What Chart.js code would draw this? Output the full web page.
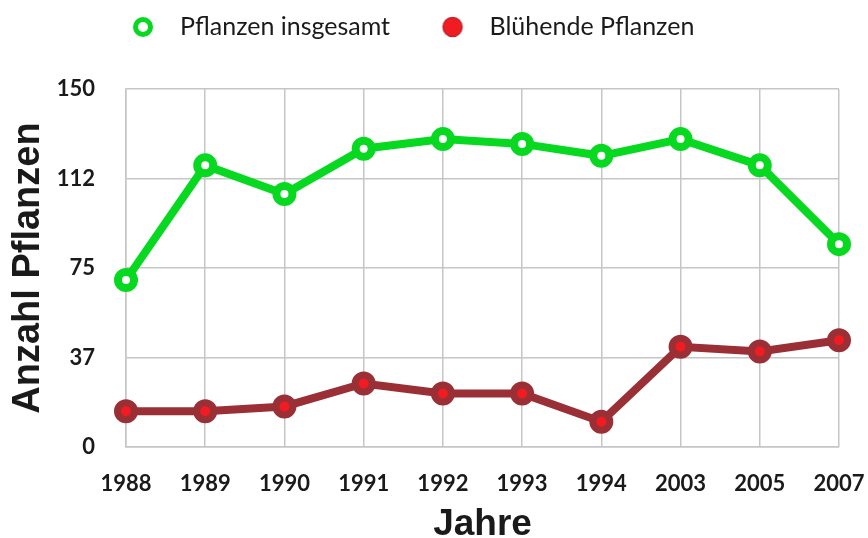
<!DOCTYPE html>
<html>
<head>
<meta charset="utf-8">
<script src="https://cdn.jsdelivr.net/npm/chart.js@4"></script>
<style>
html,body{margin:0;padding:0;background:#fff;}
#wrap{width:868px;height:538px;position:relative;}
</style>
</head>
<body>
<div id="wrap"><canvas id="c" width="868" height="538"></canvas></div>
<script>
const years = ['1988','1989','1990','1991','1992','1993','1994','2003','2005','2007'];
const totalPlants = [70, 118, 106, 125, 129, 127, 122, 129, 118, 85];
const floweringPlants = [15, 15, 17, 26.6, 22.4, 22.4, 10.6, 42, 40, 44.7];
const seriesNames = ['Pflanzen insgesamt', 'Blühende Pflanzen'];
const yTickValues = [0, 37.5, 75, 112.5, 150];
const xTitle = 'Jahre';
const yTitle = 'Anzahl Pflanzen';

const GREEN = '#06d920';
const DARKRED = '#9b2f36';
const RED = '#f01c22';
const GRID = '#c6c6c6';

function markerCanvas(kind) {
  const c = document.createElement('canvas');
  c.width = 26; c.height = 26;
  const g = c.getContext('2d');
  g.beginPath();
  if (kind === 'ring') {
    g.arc(13, 13, 7.5, 0, Math.PI * 2);
    g.fillStyle = '#ffffff';
    g.fill();
    g.lineWidth = 5;
    g.strokeStyle = GREEN;
    g.stroke();
  } else {
    g.arc(13, 13, 9.5, 0, Math.PI * 2);
    g.fillStyle = RED;
    g.fill();
    g.lineWidth = 1.5;
    g.strokeStyle = '#c0282e';
    g.stroke();
  }
  return c;
}
const legendMarkers = [markerCanvas('ring'), markerCanvas('dot')];

const legendShift = {
  id: 'legendShift',
  afterLayout(chart) {
    const lg = chart.legend;
    if (!lg) return;
    const dx = 80.5 - lg.left;
    const dy = -23.5 - lg.top;
    lg.left += dx; lg.right += dx;
    lg.top += dy; lg.bottom += dy;
  }
};

new Chart(document.getElementById('c'), {
  type: 'line',
  data: {
    labels: years,
    datasets: [
      {
        label: seriesNames[0],
        data: totalPlants,
        borderColor: GREEN,
        backgroundColor: '#ffffff',
        borderWidth: 8,
        pointRadius: 8,
        pointBorderWidth: 8,
        pointBackgroundColor: '#ffffff',
        pointBorderColor: GREEN,
        pointStyle: 'circle',
        tension: 0
      },
      {
        label: seriesNames[1],
        data: floweringPlants,
        borderColor: DARKRED,
        backgroundColor: RED,
        borderWidth: 8,
        pointRadius: 8.5,
        pointBorderWidth: 7,
        pointBackgroundColor: RED,
        pointBorderColor: DARKRED,
        pointStyle: 'circle',
        tension: 0
      }
    ]
  },
  options: {
    responsive: false,
    animation: false,
    layout: { padding: { left: 0, right: 0, top: 16, bottom: 0 } },
    plugins: {
      tooltip: { enabled: false },
      legend: {
        position: 'top',
        align: 'start',
        maxHeight: 88,
        labels: {
          usePointStyle: true,
          pointStyleWidth: 49,
          padding: 38,
          color: '#1a1a1a',
          font: { family: 'Lato', size: 25 },
          generateLabels(chart) {
            const items = Chart.defaults.plugins.legend.labels.generateLabels(chart);
            items.forEach((it, i) => { it.pointStyle = legendMarkers[i]; });
            return items;
          }
        }
      }
    },
    scales: {
      x: {
        type: 'category',
        offset: false,
        afterFit(s) { s.height = 91; s.paddingRight = 29; s.paddingLeft = 0; },
        grid: { color: GRID, lineWidth: 1.5, drawTicks: false },
        border: { color: GRID, width: 1.5 },
        ticks: {
          padding: 24,
          color: '#1a1a1a',
          font: { family: 'Lato', size: 22, weight: 'bold' },
          maxRotation: 0,
          autoSkip: false
        },
        title: {
          display: true,
          text: xTitle,
          color: '#1a1a1a',
          font: { family: 'Liberation Sans', size: 37, weight: 'bold' },
          padding: { top: 0, bottom: -9 }
        }
      },
      y: {
        min: 0,
        max: 150,
        afterFit(s) { s.width = 126; },
        afterBuildTicks(s) { s.ticks = yTickValues.map(v => ({ value: v })); },
        grid: { color: GRID, lineWidth: 1.5, drawTicks: false },
        border: { color: GRID, width: 1.5 },
        ticks: {
          padding: 31,
          color: '#1a1a1a',
          font: { family: 'Lato', size: 22, weight: 'bold' },
          callback: v => String(Math.floor(v))
        },
        title: {
          display: true,
          text: yTitle,
          color: '#1a1a1a',
          font: { family: 'Liberation Sans', size: 38, weight: 'bold' },
          padding: { top: 6, bottom: 0 }
        }
      }
    }
  },
  plugins: [legendShift]
});
</script>
</body>
</html>
